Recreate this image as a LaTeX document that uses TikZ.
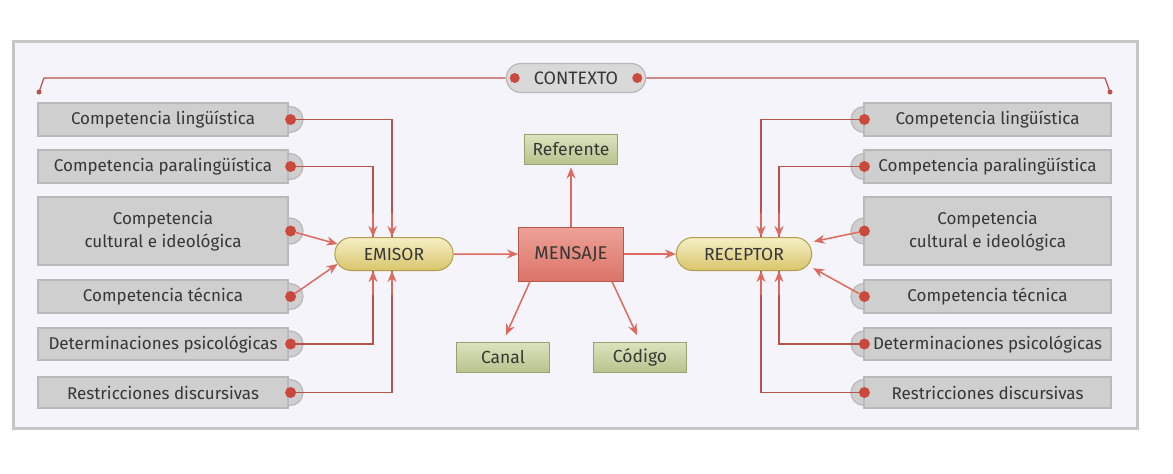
\documentclass[tikz,border=0pt]{standalone}
\usepackage{fontspec}
\setmainfont{Fira Sans}
\usetikzlibrary{positioning,shapes.misc,arrows.meta}
\definecolor{linered}{HTML}{B9524A}
\definecolor{arrowred}{HTML}{DD6A5E}
\definecolor{dotred}{HTML}{C9493C}
\definecolor{framebg}{HTML}{F4F4FA}
\definecolor{txtgray}{HTML}{363636}
\definecolor{pilltop}{HTML}{F5EFC6}
\definecolor{pillbot}{HTML}{D9C56C}
\definecolor{pilldraw}{HTML}{B39C4E}
\definecolor{msgtop}{HTML}{EEA197}
\definecolor{msgbot}{HTML}{DB7468}
\definecolor{msgdraw}{HTML}{B8564C}
\definecolor{elemtop}{HTML}{DCE3BE}
\definecolor{elembot}{HTML}{B7C48E}
\definecolor{elemdraw}{HTML}{97A274}

\begin{document}
\begin{tikzpicture}[x=1pt,y=-1pt,
  comp/.style = {draw=gray!55, line width=1.2pt, top color=gray!38, middle color=gray!6, bottom color=gray!38,
    minimum width=250pt, minimum height=33pt, inner sep=2pt, align=center, text=txtgray,
    font=\fontsize{17}{23}\selectfont},
  bump/.style = {circle, draw=gray!55, line width=1.2pt, top color=gray!38, middle color=gray!6, bottom color=gray!38,
    minimum size=26pt, inner sep=0pt},
  dot/.style = {circle, fill=dotred, minimum size=11pt, inner sep=0pt},
  agent/.style = {rounded rectangle, draw=pilldraw, line width=1pt, top color=pilltop, bottom color=pillbot,
    minimum height=33pt, text=txtgray, font=\fontsize{17.5}{20}\selectfont},
  msg/.style = {draw=msgdraw, line width=1pt, top color=msgtop, bottom color=msgbot,
    minimum width=105pt, minimum height=54pt, text=txtgray, font=\fontsize{18.5}{21}\selectfont},
  elem/.style = {draw=elemdraw, line width=1pt, top color=elemtop, bottom color=elembot,
    minimum width=93pt, minimum height=30pt, text=txtgray, font=\fontsize{17.5}{20}\selectfont},
  ctxbox/.style = {rounded rectangle, draw=gray!55, line width=1.2pt, top color=gray!30, middle color=white, bottom color=gray!30,
    minimum width=146pt, minimum height=29pt, text=txtgray, font=\fontsize{18}{20}\selectfont},
  link/.style = {draw=linered, line width=1.2pt},
  arr/.style = {draw=arrowred, line width=1.5pt, -{Stealth[length=11pt,width=9pt]}}]

\useasboundingbox (0,0) rectangle (1173,474);
\draw[fill=framebg, draw=gray!45, line width=3pt] (13,41) rectangle (1137,428);

% centre
\node[agent, minimum width=125pt] (em) at (394,254) {EMISOR};
\node[msg] (ms) at (571,254) {MENSAJE};
\node[agent, minimum width=142pt] (rc) at (744,254) {RECEPTOR};
\node[elem] (rf) at (571,149) {Referente};
\node[elem] (cn) at (503,357) {Canal};
\node[elem] (cd) at (640,357) {Código};

% contexto
\node[ctxbox] (ctx) at (576,78) {CONTEXTO};
\node[dot, minimum size=10pt] (ctxa) at ([xshift=9pt]ctx.west) {};
\node[dot, minimum size=10pt] (ctxb) at ([xshift=-9pt]ctx.east) {};
\coordinate (cl) at (39,92);
\coordinate (cr) at (1110,92);

\foreach \y in {119.5,166.5,231,296.5,344,392.5} {
  \node[bump] at (290,\y) {};
  \node[bump] at (864,\y) {};
}

% left boxes
\node[comp] (l1) at (163,119.5) {Competencia lingüística};
\node[comp] (l2) at (163,166.5) {Competencia paralingüística};
\node[comp, minimum height=68pt] (l3) at (163,231) {Competencia\\cultural e ideológica};
\node[comp] (l4) at (163,296.5) {Competencia técnica};
\node[comp, minimum height=32pt] (l5) at (163,344) {Determinaciones psicológicas};
\node[comp, minimum height=31pt] (l6) at (163,392.5) {Restricciones discursivas};

% right boxes
\node[comp, minimum width=247pt] (r1) at (987.5,119.5) {Competencia lingüística};
\node[comp, minimum width=247pt] (r2) at (987.5,166.5) {Competencia paralingüística};
\node[comp, minimum width=247pt, minimum height=68pt] (r3) at (987.5,231) {Competencia\\cultural e ideológica};
\node[comp, minimum width=247pt] (r4) at (987.5,296.5) {Competencia técnica};
\node[comp, minimum width=247pt, minimum height=32pt] (r5) at (987.5,344) {Determinaciones psicológicas};
\node[comp, minimum width=247pt, minimum height=31pt] (r6) at (987.5,392.5) {Restricciones discursivas};

\foreach \i in {1,...,6} {
  \node[dot] (dl\i) at ([xshift=2pt]l\i.east) {};
  \node[dot] (dr\i) at ([xshift=1pt]r\i.west) {};
}

\draw[link] (cl) -- ++(5,-14) -- (ctx.west);
\draw[link] (cr) -- ++(-5,-14) -- (ctx.east);
\fill[linered] (cl) circle (2.5pt);
\fill[linered] (cr) circle (2.5pt);

% emisor
\draw[link] (dl1) -| ([xshift=-2pt]em.north);
\draw[link] (dl2) -| ([xshift=-21pt]em.north);
\draw[link] (dl5) -| ([xshift=-21pt]em.south);
\draw[link] (dl6) -| ([xshift=-2pt]em.south);
\draw[arr] ([xshift=-2pt,yshift=24pt]em.north) -- ([xshift=-2pt]em.north);
\draw[arr] ([xshift=-21pt,yshift=24pt]em.north) -- ([xshift=-21pt]em.north);
\draw[arr] ([xshift=-2pt,yshift=-24pt]em.south) -- ([xshift=-2pt]em.south);
\draw[arr] ([xshift=-21pt,yshift=-24pt]em.south) -- ([xshift=-21pt]em.south);
\draw[arr] (dl3) -- (em.170);
\draw[arr] (dl4) -- (em.190);

% receptor
\draw[link] (dr1) -| ([xshift=17pt]rc.north);
\draw[link] (dr2) -| ([xshift=35pt]rc.north);
\draw[link] (dr5) -| ([xshift=35pt]rc.south);
\draw[link] (dr6) -| ([xshift=17pt]rc.south);
\draw[arr] ([xshift=17pt,yshift=24pt]rc.north) -- ([xshift=17pt]rc.north);
\draw[arr] ([xshift=35pt,yshift=24pt]rc.north) -- ([xshift=35pt]rc.north);
\draw[arr] ([xshift=17pt,yshift=-24pt]rc.south) -- ([xshift=17pt]rc.south);
\draw[arr] ([xshift=35pt,yshift=-24pt]rc.south) -- ([xshift=35pt]rc.south);
\draw[arr, shorten >=6pt] (dr3) -- (rc.10);
\draw[arr, shorten >=6pt] (dr4) -- (rc.350);

% mensaje
\draw[arr] (em) -- (ms);
\draw[arr] (ms) -- (rc);
\draw[arr, shorten >=3pt] (ms) -- (rf);
\draw[arr, shorten >=7pt] ([xshift=-41pt]ms.south) -- (cn.north);
\draw[arr, shorten >=7pt] ([xshift=41pt]ms.south) -- (cd.north);
\end{tikzpicture}
\end{document}
